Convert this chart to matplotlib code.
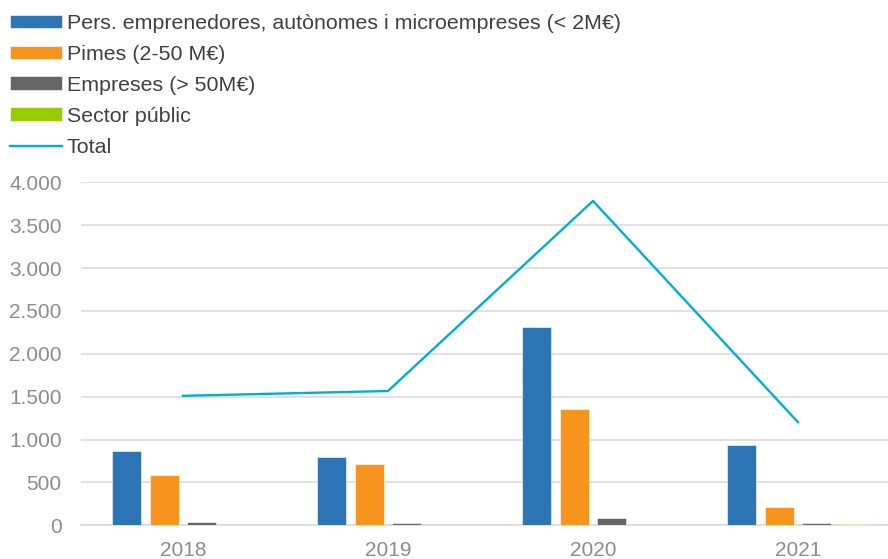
import numpy as np
import matplotlib.pyplot as plt
from matplotlib.ticker import FuncFormatter

plt.rcParams['font.family'] = ['Liberation Sans', 'DejaVu Sans']

years = ['2018', '2019', '2020', '2021']
autonomos = [870, 795, 2317, 941]
pimes = [583, 720, 1357, 216]
empreses = [35, 27, 83, 27]
sector_public = [4, 4, 6, 12]
total = [1510, 1566, 3783, 1202]

labels = ['Pers. emprenedores, autònomes i microempreses (< 2M€)',
          'Pimes (2-50 M€)', 'Empreses (> 50M€)', 'Sector públic']
colors = ['#2E75B6', '#F7941D', '#666666', '#99CC00']
series = [autonomos, pimes, empreses, sector_public]

fig = plt.figure(figsize=(8.88, 5.59), dpi=100)
ax = fig.add_axes([80.5 / 888, 33.7 / 559, 820 / 888, 343 / 559])

x = np.arange(len(years))
pitch = 0.183
width = 0.1415
handles = []
for i, (vals, col, lab) in enumerate(zip(series, colors, labels)):
    b = ax.bar(x + (i - 1.5) * pitch, vals, width, color=col, label=lab,
               edgecolor='white', linewidth=0.4, zorder=3)
    handles.append(b)
ln, = ax.plot(x, total, color='#00AED6', lw=1.7, label='Total', zorder=4)
handles.append(ln)

ax.set_xlim(-0.5, 3.5)
ax.set_ylim(0, 4000)
ax.set_yticks(np.arange(0, 4001, 500))
ax.yaxis.set_major_formatter(FuncFormatter(lambda v, p: f'{int(v):,}'.replace(',', '.')))
ax.set_xticks(x)
ax.set_xticklabels(years)
ax.grid(axis='y', color='#D9D9D9', lw=1.1, zorder=0)
for s in ['top', 'right', 'left']:
    ax.spines[s].set_visible(False)
ax.spines['bottom'].set_color('#D9D9D9')
ax.spines['bottom'].set_linewidth(1.1)
ax.tick_params(axis='y', length=0, pad=13.5, labelsize=15, labelcolor='#8C8C8C')
ax.tick_params(axis='x', length=0, pad=11, labelsize=15, labelcolor='#8C8C8C')

leg = fig.legend(handles=handles, loc='upper left',
                 bbox_to_anchor=(10 / 888, 1 - 14 / 559),
                 frameon=False, fontsize=15.4, handlelength=2.43, handleheight=0.62,
                 handletextpad=0.23, labelspacing=0.56, borderaxespad=0, borderpad=0)
for t in leg.get_texts():
    t.set_color('#404040')

fig.savefig('out.png', dpi=100)
